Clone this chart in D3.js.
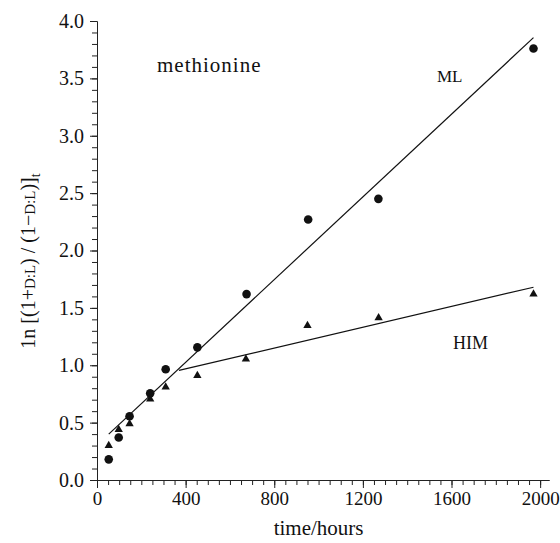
<!DOCTYPE html>
<html>
<head>
<meta charset="utf-8">
<script src="https://cdn.jsdelivr.net/npm/d3@7"></script>
<style>
  body { margin: 0; background: #fff; }
  svg text { font-family: "Liberation Serif", "DejaVu Serif", serif !important; fill: #111; }
</style>
</head>
<body>
<div id="chart"></div>
<script>
// ML (circles) and HIM (triangles)
var mlTime = [53, 98, 147, 240, 310, 453, 675, 953, 1270, 1970];
var mlValue = [0.18, 0.37, 0.555, 0.755, 0.965, 1.156, 1.62, 2.27, 2.45, 3.76];
var himTime = [53, 98, 147, 240, 310, 453, 672, 950, 1271, 1970];
var himValue = [0.30, 0.44, 0.49, 0.705, 0.81, 0.91, 1.054, 1.345, 1.414, 1.62];

// fitted lines (end points)
var mlFit = [[53, 0.40], [1970, 3.855]];
var himFit = [[370, 0.955], [1970, 1.68]];

var xTicks = [0, 400, 800, 1200, 1600, 2000];
var yTicks = [0, 0.5, 1.0, 1.5, 2.0, 2.5, 3.0, 3.5, 4.0];
var xMinor = d3.range(0, 2050, 50);
var yMinor = d3.range(0, 41).map(d => d / 10);

var width = 560, height = 543;
var serif = "'Liberation Serif', 'DejaVu Serif', serif";

var svg = d3.select("#chart")
    .append("svg")
    .attr("width", width)
    .attr("height", height);

var x = d3.scaleLinear().domain([0, 2040]).range([97, 549]);
var y = d3.scaleLinear().domain([0, 4]).range([480, 21]);

/// axes ///
svg.append("g")
    .attr("transform", "translate(0," + y(0) + ")")
    .call(d3.axisBottom(x).tickValues(xMinor).tickSize(5).tickSizeOuter(0).tickFormat(""))
    .call(g => g.selectAll("line, path").attr("stroke", "#222"));

svg.append("g")
    .attr("transform", "translate(0," + y(0) + ")")
    .call(d3.axisBottom(x).tickValues(xTicks).tickSize(8).tickSizeOuter(0).tickPadding(4).tickFormat(d3.format("d")))
    .attr("font-family", serif)
    .call(g => g.selectAll("line, path").attr("stroke", "#222"))
    .call(g => g.selectAll("text").attr("font-size", 19).attr("fill", "#111"));

svg.append("g")
    .attr("transform", "translate(" + x(0) + ",0)")
    .call(d3.axisLeft(y).tickValues(yMinor).tickSize(5).tickSizeOuter(0).tickFormat(""))
    .call(g => g.selectAll("line, path").attr("stroke", "#222"));

svg.append("g")
    .attr("transform", "translate(" + x(0) + ",0)")
    .call(d3.axisLeft(y).tickValues(yTicks).tickSize(7).tickSizeOuter(0).tickPadding(6).tickFormat(d3.format(".1f")))
    .attr("font-family", serif)
    .call(g => g.selectAll("line, path").attr("stroke", "#222"))
    .call(g => g.selectAll("text").attr("font-size", 20).attr("fill", "#111"));

// axis titles
svg.append("text")
    .attr("x", (x(0) + x(2000)) / 2)
    .attr("y", 535)
    .attr("text-anchor", "middle")
    .attr("font-family", serif)
    .attr("font-size", 21)
    .text("time/hours");

var ylab = svg.append("text")
    .attr("transform", "translate(35," + 261 + ") rotate(-90)")
    .attr("text-anchor", "middle")
    .attr("font-family", serif)
    .attr("font-size", 20);
ylab.append("tspan").text("1n [(1+");
ylab.append("tspan").attr("font-size", 15).text("D:L");
ylab.append("tspan").text(") / (1\u2212");
ylab.append("tspan").attr("font-size", 15).text("D:L");
ylab.append("tspan").text(")]");
ylab.append("tspan").attr("font-size", 14).attr("dy", 5).text("t");

/// fit lines ///
var line = d3.line().x(d => x(d[0])).y(d => y(d[1]));

svg.append("path")
    .attr("d", line(mlFit))
    .attr("fill", "none")
    .attr("stroke", "#111")
    .attr("stroke-width", 1.2);

svg.append("path")
    .attr("d", line(himFit))
    .attr("fill", "none")
    .attr("stroke", "#111")
    .attr("stroke-width", 1.2);

/// points ///
svg.append("g")
    .selectAll("circle")
    .data(mlTime)
    .join("circle")
    .attr("cx", d => x(d))
    .attr("cy", (d, i) => y(mlValue[i]))
    .attr("r", 4.3)
    .attr("fill", "#111");

var tri = d3.symbol().type(d3.symbolTriangle).size(30);
svg.append("g")
    .selectAll("path")
    .data(himTime)
    .join("path")
    .attr("d", tri)
    .attr("transform", (d, i) => "translate(" + x(d) + "," + y(himValue[i]) + ")")
    .attr("fill", "#111");

/// annotations ///
svg.append("text")
    .attr("x", 157)
    .attr("y", 72)
    .attr("font-family", serif)
    .attr("font-size", 21)
    .attr("letter-spacing", 1)
    .text("methionine");

svg.append("text")
    .attr("x", 437)
    .attr("y", 82)
    .attr("font-family", serif)
    .attr("font-size", 17)
    .text("ML");

svg.append("text")
    .attr("x", 453)
    .attr("y", 349)
    .attr("font-family", serif)
    .attr("font-size", 18)
    .text("HIM");
</script>
</body>
</html>
